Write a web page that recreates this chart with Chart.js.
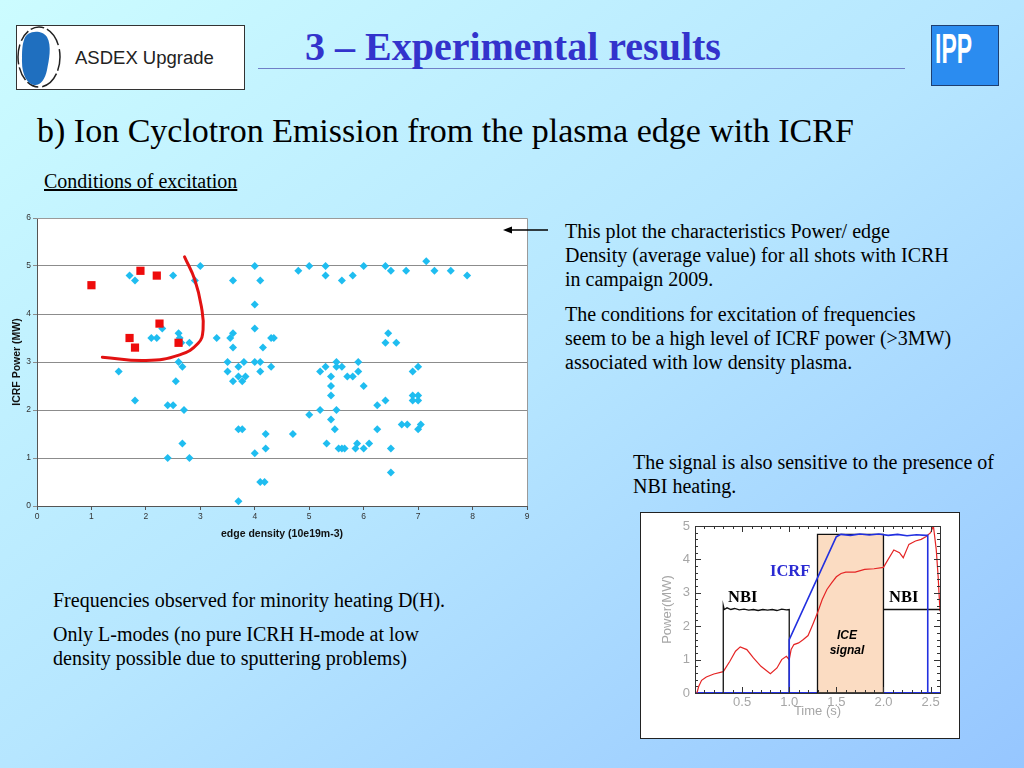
<!DOCTYPE html>
<html><head><meta charset="utf-8">
<script src="https://cdn.jsdelivr.net/npm/chart.js@4.4.1/dist/chart.umd.min.js"></script>
<style>
html,body{margin:0;padding:0;}
body{width:1024px;height:768px;overflow:hidden;position:relative;
 background:linear-gradient(to bottom right,#ccfcff 0%,#b6e6ff 50%,#96c6ff 100%);
 font-family:"Liberation Serif","Times New Roman",serif;color:#000;}
.t{position:absolute;white-space:nowrap;font-size:20px;line-height:24px;}
canvas{position:absolute;}
</style></head><body>

<svg width="1024" height="768" style="position:absolute;left:0;top:0">
  <rect x="16.5" y="25.5" width="228" height="64" fill="#fff" stroke="#333" stroke-width="1"/>
  <ellipse cx="39" cy="57" rx="21" ry="30" fill="none" stroke="#222" stroke-width="1.5" stroke-dasharray="14 3 20 4 12 3"/>
  <path d="M24,40 C26,30 42,29 47,37 C52,46 49,60 47,70 C45,80 40,86 34,85 C27,84 22,74 22,62 C22,52 22,46 24,40 Z" fill="#1f6fbf"/>
  <text x="75" y="64" font-family="Liberation Sans, Arial, sans-serif" font-size="18.5" fill="#222">ASDEX Upgrade</text>
  <line x1="258" y1="68.5" x2="905" y2="68.5" stroke="#6f7fc8" stroke-width="1.2"/>
  <rect x="931.5" y="25.5" width="67" height="60" fill="#2b8cf0" stroke="#1f3f70" stroke-width="1"/>
  <text x="935" y="63" font-family="Liberation Sans, Arial, sans-serif" font-weight="bold" font-size="43" fill="#fff" textLength="37" lengthAdjust="spacingAndGlyphs">IPP</text>
  <rect x="640.5" y="512.5" width="319" height="226" fill="#fff" stroke="#222" stroke-width="1"/>
</svg>

<div class="t" style="left:305px;top:25px;font-size:40px;line-height:44px;font-weight:bold;color:#3333cc;">3 – Experimental results</div>
<div class="t" style="left:37px;top:111px;font-size:34px;line-height:40px;">b) Ion Cyclotron Emission from the plasma edge with ICRF</div>
<div class="t" style="left:44px;top:169px;text-decoration:underline;">Conditions of excitation</div>

<div class="t" style="left:565px;top:219px;">This plot the characteristics Power/ edge<br>Density (average value) for all shots with ICRH<br>in campaign 2009.</div>
<div class="t" style="left:565px;top:302px;">The conditions for excitation of frequencies<br>seem to be a high level of ICRF power (&gt;3MW)<br>associated with low density plasma.</div>
<div class="t" style="left:633px;top:450px;">The signal is also sensitive to the presence of<br>NBI heating.</div>
<div class="t" style="left:53px;top:588px;">Frequencies observed for minority heating D(H).</div>
<div class="t" style="left:53px;top:622px;">Only L-modes (no pure ICRH H-mode at low<br>density possible due to sputtering problems)</div>

<canvas id="main" width="540" height="341" style="left:0;top:205px;"></canvas>
<canvas id="inset" width="318" height="224" style="left:641px;top:513px;"></canvas>

<svg width="1024" height="768" style="position:absolute;left:0;top:0;pointer-events:none">
  <line x1="548" y1="230" x2="510" y2="230" stroke="#000" stroke-width="1.3"/>
  <polygon points="503,230 512,226.5 512,233.5" fill="#000"/>
</svg>

<div class="t" style="left:728px;top:585px;font-size:16.5px;font-weight:bold;">NBI</div>
<div class="t" style="left:770px;top:559px;font-size:16.5px;font-weight:bold;color:#2a2ad2;">ICRF</div>
<div class="t" style="left:889px;top:585px;font-size:16.5px;font-weight:bold;">NBI</div>
<div class="t" style="left:822px;top:628px;width:50px;text-align:center;font-family:'Liberation Sans',Arial,sans-serif;font-size:12px;line-height:15px;font-weight:bold;font-style:italic;">ICE<br>signal</div>

<script>
// ---------- Main scatter: edge density vs ICRF power ----------
const cyanDensity = [1.7,1.8,2.5,3.0,2.9,3.6,4.0,4.1,4.0,4.0,2.3,2.1,2.2,2.6,2.62,2.65,2.8,3.3,3.55,3.6,3.6,4.3,4.35,4.15,
  2.6,2.67,3.5,3.7,3.8,4.0,4.1,4.3,1.5,3.5,4.1,3.7,3.83,3.6,3.77,2.55,1.8,2.4,2.5,2.7,3.7,3.77,4.2,2.67,4.2,4.0,2.4,2.8,
  4.1,4.18,3.7,
  4.8,5.0,5.3,5.3,5.6,5.8,6.0,6.4,6.5,6.78,7.15,7.3,7.6,7.9,6.45,6.4,6.6,5.5,5.3,5.5,5.6,5.9,5.2,5.9,5.4,5.7,5.8,5.4,6.0,
  5.4,6.9,7.0,6.9,7.0,6.9,7.0,6.4,6.25,5.2,5.5,5.0,5.4,6.7,6.8,7.05,7.0,5.47,6.25,4.7,5.32,5.88,6.1,5.54,5.6,5.65,5.85,
  6.0,6.5,6.5];
const cyanPower = [4.8,4.7,4.8,5.0,4.7,4.7,5.0,4.7,4.2,3.7,3.7,3.5,3.5,3.6,3.5,3.4,3.4,3.5,3.5,3.6,3.3,3.5,3.5,3.3,
  3.0,2.9,3.0,2.9,3.0,3.0,3.0,2.9,2.8,2.8,2.8,2.7,2.7,2.6,2.6,2.6,2.2,2.1,2.1,2.0,1.6,1.6,1.5,1.3,1.2,1.1,1.0,1.0,
  0.5,0.5,0.1,
  4.9,5.0,5.0,4.8,4.7,4.8,5.0,5.0,4.9,4.9,5.1,4.9,4.9,4.8,3.6,3.4,3.4,3.0,2.9,2.9,2.9,3.0,2.8,2.8,2.7,2.7,2.7,2.5,2.5,
  2.3,2.8,2.9,2.3,2.3,2.2,2.2,2.2,2.1,2.0,2.0,1.9,1.8,1.7,1.7,1.7,1.6,1.6,1.6,1.5,1.3,1.3,1.3,1.2,1.2,1.2,1.2,
  1.2,1.2,0.7];
const iceDensity = [1.0,1.9,2.2,2.25,1.7,1.8,2.6];
const icePower   = [4.6,4.9,4.8,3.8,3.5,3.3,3.4];
const boundaryDensity = [1.2,2.0,2.62,2.96,3.05,3.02,2.9,2.71];
const boundaryPower   = [3.1,3.03,3.15,3.39,3.67,4.15,4.71,5.19];
const densityTicks = [0,1,2,3,4,5,6,7,8,9];
const powerTicks   = [0,1,2,3,4,5,6];

// ---------- Inset: time traces ----------
const nbiTime  = [0.3,0.3,0.31,0.34,0.38,0.42,0.47,0.52,0.57,0.62,0.67,0.72,0.77,0.82,0.87,0.92,0.97,1.0,1.0,null,2.0,2.6];
const nbiPower = [0,2.62,2.5,2.55,2.5,2.53,2.49,2.51,2.48,2.5,2.47,2.5,2.48,2.5,2.47,2.51,2.49,2.5,0,null,2.5,2.5];
const icrfTime  = [1.0,1.0,1.5,1.55,1.65,1.75,1.85,1.95,2.05,2.15,2.25,2.35,2.45,2.47,2.47];
const icrfPower = [0,1.6,4.68,4.75,4.72,4.76,4.73,4.76,4.72,4.75,4.71,4.74,4.72,4.72,0];
const baseTime  = [0,2.6];
const basePower = [0,0];
const iceTime  = [0.02,0.04,0.07,0.12,0.2,0.3,0.37,0.43,0.48,0.55,0.62,0.7,0.8,0.87,0.92,0.97,1.0,1.02,1.05,1.1,1.15,1.2,1.25,1.3,
  1.35,1.4,1.45,1.5,1.55,1.6,1.7,1.8,1.9,2.0,2.05,2.11,2.17,2.21,2.27,2.34,2.4,2.45,2.5,2.53,2.56,2.58,2.6];
const icePowerT = [0,0.2,0.38,0.48,0.57,0.64,0.95,1.25,1.38,1.3,1.05,0.8,0.58,0.75,1.0,1.1,1.0,1.3,1.45,1.5,1.6,1.72,2.05,2.4,
  2.8,3.1,3.3,3.48,3.58,3.62,3.62,3.7,3.72,3.76,4.0,4.28,4.2,4.05,4.45,4.55,4.6,4.68,4.8,5.0,4.3,3.5,2.45];
const boxTime  = [1.3,1.3,2.0,2.0,1.3];
const boxPower = [0,4.75,4.75,0,0];
const boxTopTime  = [1.3,2.0];
const boxTopPower = [4.75,4.75];
const timeTicks = [0.5,1.0,1.5,2.0,2.5];
const timeTickLabels = ['0.5','1.0','1.5','2.0','2.5'];
const insetPowerTicks = [0,1,2,3,4,5];

const zip = (xs, ys) => xs.map((x, i) => ({x: x, y: ys[i]}));

const frame = {
  id: 'frame',
  beforeDraw(c, a, o) {
    const {ctx, chartArea: r} = c;
    ctx.save();
    ctx.fillStyle = o.fill;
    ctx.fillRect(r.left, r.top, r.right - r.left, r.bottom - r.top);
    ctx.restore();
  },
  afterDraw(c, a, o) {
    const {ctx, chartArea: r} = c;
    ctx.save();
    ctx.strokeStyle = o.stroke; ctx.lineWidth = 1;
    ctx.beginPath();
    ctx.moveTo(r.left, r.top + 0.5); ctx.lineTo(r.right + 0.5, r.top + 0.5); ctx.lineTo(r.right + 0.5, r.bottom);
    ctx.stroke();
    if (o.inner) {
      const xs = c.scales.x, ys = c.scales.y;
      ctx.strokeStyle = '#333';
      ctx.beginPath();
      for (let i = 0; i <= 26; i++) {
        const v = i / 10, p = Math.round(xs.getPixelForValue(v)) + 0.5, L = (i % 5 === 0) ? 6 : 3;
        ctx.moveTo(p, r.bottom); ctx.lineTo(p, r.bottom - L);
        ctx.moveTo(p, r.top); ctx.lineTo(p, r.top + L);
      }
      for (let i = 0; i <= 25; i++) {
        const v = i / 5, p = Math.round(ys.getPixelForValue(v)) + 0.5, L = (i % 5 === 0) ? 6 : 3;
        ctx.moveTo(r.left, p); ctx.lineTo(r.left + L, p);
        ctx.moveTo(r.right, p); ctx.lineTo(r.right - L, p);
      }
      ctx.stroke();
    }
    ctx.restore();
  }
};

const sans = "'Liberation Sans', Arial, sans-serif";

new Chart(document.getElementById('main'), {
  type: 'scatter',
  data: { datasets: [
    { data: zip(boundaryDensity, boundaryPower), showLine: true, borderColor: '#e21212', borderWidth: 3,
      pointRadius: 0, tension: 0.45, fill: false, order: 0, borderCapStyle: 'round' },
    { data: zip(iceDensity, icePower), pointStyle: 'rect', pointRadius: 5.8, backgroundColor: '#ee0b0b',
      borderColor: '#ee0b0b', borderWidth: 0, order: 1 },
    { data: zip(cyanDensity, cyanPower), pointStyle: 'rectRot', pointRadius: 4, backgroundColor: '#1fbdf0',
      borderColor: '#1fbdf0', borderWidth: 0, order: 2 }
  ]},
  options: {
    responsive: false, animation: false, events: [],
    layout: { padding: { left: 7, top: 13, right: 13, bottom: 2 } },
    plugins: { legend: { display: false }, tooltip: { enabled: false },
      frame: { fill: '#ffffff', stroke: '#9a9a9a', inner: false } },
    scales: {
      x: { type: 'linear', min: 0, max: 9,
        afterBuildTicks: s => { s.ticks = densityTicks.map(v => ({ value: v })); },
        afterFit: s => { s.height = 38; },
        ticks: { font: { family: sans, size: 8.5 }, color: '#333', padding: 2, maxRotation: 0 },
        grid: { drawOnChartArea: false, drawTicks: true, tickLength: 4, color: '#555' },
        border: { color: '#555' },
        title: { display: true, text: 'edge density (10e19m-3)', color: '#111',
          font: { family: sans, size: 10.5, weight: 'bold' }, padding: { top: 0, bottom: 4 } } },
      y: { min: 0, max: 6,
        afterBuildTicks: s => { s.ticks = powerTicks.map(v => ({ value: v })); },
        afterFit: s => { s.width = 30; },
        ticks: { font: { family: sans, size: 8.5 }, color: '#333', padding: 2 },
        grid: { color: '#8c8c8c', tickLength: 4, lineWidth: 1 },
        border: { color: '#555' },
        title: { display: true, text: 'ICRF Power (MW)', color: '#111',
          font: { family: sans, size: 10.5, weight: 'bold' }, padding: { top: 4, bottom: 0 } } }
    }
  },
  plugins: [frame]
});

new Chart(document.getElementById('inset'), {
  type: 'scatter',
  data: { datasets: [
    { data: zip(icrfTime, icrfPower), showLine: true, borderColor: '#2230e0', borderWidth: 1.6, pointRadius: 0, order: 0 },
    { data: zip(nbiTime, nbiPower), showLine: true, borderColor: '#111', borderWidth: 1.3, pointRadius: 0, spanGaps: false, order: 1 },
    { data: zip(iceTime, icePowerT), showLine: true, borderColor: '#e52424', borderWidth: 1.2, pointRadius: 0, order: 2 },
    { data: zip(boxTime, boxPower), showLine: true, borderColor: '#111', borderWidth: 1.3, pointRadius: 0, fill: false, order: 3 },
    { data: zip(boxTopTime, boxTopPower), showLine: true, borderColor: 'rgba(0,0,0,0)', borderWidth: 0, pointRadius: 0,
      fill: 'origin', backgroundColor: '#fbdcc2', order: 4 },
    { data: zip(baseTime, basePower), showLine: true, borderColor: '#2230e0', borderWidth: 2, pointRadius: 0, order: 5 }
  ]},
  options: {
    responsive: false, animation: false, events: [],
    layout: { padding: { left: 12, top: 13, right: 19, bottom: 18 } },
    plugins: { legend: { display: false }, tooltip: { enabled: false },
      filler: { propagate: false },
      frame: { fill: '#ffffff', stroke: '#333', inner: true } },
    scales: {
      x: { type: 'linear', min: 0, max: 2.6,
        afterBuildTicks: s => { s.ticks = timeTicks.map(v => ({ value: v })); },
        afterFit: s => { s.height = 26; },
        ticks: { font: { family: sans, size: 13 }, color: '#a6a6a6', padding: 2, maxRotation: 0,
          callback: v => timeTickLabels[timeTicks.indexOf(v)] },
        grid: { drawOnChartArea: false, drawTicks: false },
        border: { color: '#333' },
        title: { display: true, text: 'Time (s)', color: '#a6a6a6',
          font: { family: sans, size: 13 }, padding: { top: 0, bottom: 0 } } },
      y: { min: 0, max: 5,
        afterBuildTicks: s => { s.ticks = insetPowerTicks.map(v => ({ value: v })); },
        afterFit: s => { s.width = 42; },
        ticks: { font: { family: sans, size: 13 }, color: '#a6a6a6', padding: 5 },
        grid: { drawOnChartArea: false, drawTicks: false },
        border: { color: '#333' },
        title: { display: true, text: 'Power(MW)', color: '#a6a6a6',
          font: { family: sans, size: 13 }, padding: { top: 7, bottom: 0 } } }
    }
  },
  plugins: [frame]
});
</script>
</body></html>
